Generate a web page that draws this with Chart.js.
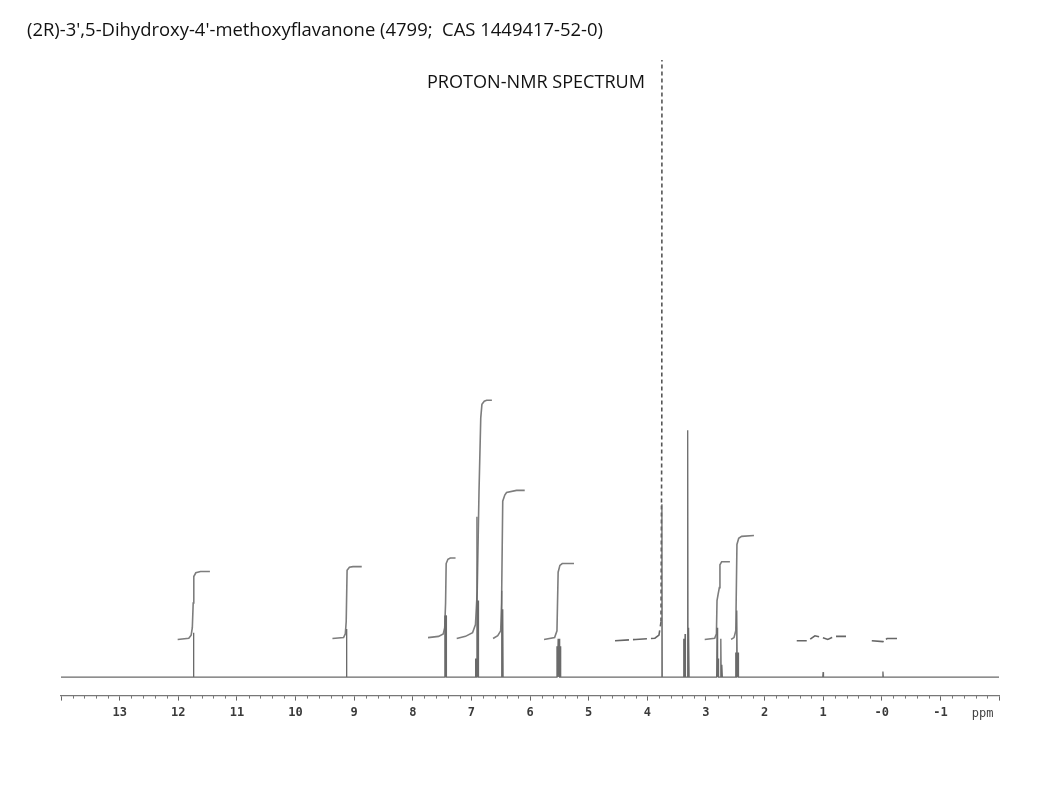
<!DOCTYPE html>
<html>
<head>
<meta charset="utf-8">
<script src="https://cdn.jsdelivr.net/npm/chart.js@4.4.1/dist/chart.umd.min.js"></script>
<style>
  html, body { margin: 0; padding: 0; background: #fff; }
  #wrap { position: relative; width: 1064px; height: 790px; overflow: hidden; }
  #chart { position: absolute; left: 0; top: 0; }
  .txt { position: absolute; white-space: nowrap; font-family: "Open Sans", "Noto Sans", sans-serif; color: #111; line-height: 20px; transform-origin: 0 0; }
</style>
</head>
<body>
<div id="wrap">
  <canvas id="chart" width="1064" height="790"></canvas>
  <div id="title" class="txt" style="left:27px; top:19px; font-size:17.5px;">(2R)-3',5-Dihydroxy-4'-methoxyflavanone (4799;&nbsp; CAS 1449417-52-0)</div>
  <div id="subtitle" class="txt" style="left:427px; top:71px; font-size:17.5px;">PROTON-NMR SPECTRUM</div>
</div>
<script>
// ---- axis ----
const ppmMin = -2;
const ppmMax = 14;
const majorTickLabels = { 13: "13", 12: "12", 11: "11", 10: "10", 9: "9", 8: "8", 7: "7", 6: "6", 5: "5", 4: "4", 3: "3", 2: "2", 1: "1", 0: "-0", "-1": "-1" };
const axisUnit = "ppm";

// ---- spectrum lines (ppm, relative height) ----
const peakPpm    = [11.74, 9.13, 7.452, 7.432, 6.93, 6.905, 6.885, 6.485, 6.465, 5.54, 5.52, 5.50, 5.48, 3.75, 3.38, 3.355, 3.31, 3.292, 2.81, 2.79, 2.745, 2.725, 2.49, 2.47, 2.45, 1.00, -0.02];
const peakHeight = [7.2,   7.8,  10.0,  10.0,  3.0,  26.0,  12.4,  14.0,  11.0,  5.0,  6.2,  6.2,  5.0,  28.0, 6.2,  7.0,   40.0, 8.0,   8.0,  3.0,  6.2,   2.0,   4.0,  10.8, 4.0,  0.8,  0.9];

// ---- integral traces (ppm, level) ----
const intOH5    = [[12.01,6.1],[11.82,6.3],[11.78,6.8],[11.76,8.0],[11.745,12.0],[11.735,16.3],[11.70,16.9],[11.62,17.1],[11.46,17.1]];
const intOH3    = [[9.37,6.25],[9.18,6.4],[9.15,7.0],[9.135,9.0],[9.12,17.3],[9.08,17.8],[9.02,17.9],[8.87,17.9]];
const intH2p    = [[7.74,6.4],[7.56,6.6],[7.48,7.0],[7.455,8.0],[7.44,12.0],[7.43,18.4],[7.40,19.1],[7.36,19.3],[7.27,19.3]];
const intH5p6p  = [[7.25,6.25],[7.10,6.6],[6.98,7.2],[6.93,8.5],[6.90,14.0],[6.87,30.0],[6.84,42.0],[6.82,44.2],[6.78,44.7],[6.74,44.85],[6.65,44.85]];
const intH6H8   = [[6.63,6.25],[6.55,6.7],[6.50,7.5],[6.485,12.0],[6.465,28.5],[6.43,29.5],[6.40,29.9],[6.23,30.25],[6.09,30.25]];
const intH2     = [[5.76,6.1],[5.58,6.4],[5.54,7.5],[5.52,17.0],[5.49,18.1],[5.45,18.4],[5.25,18.4]];
const intOMeLow = [[4.55,5.9],[4.20,6.1],[3.87,6.3],[3.80,6.8],[3.765,9.0]];
const intOMeUp  = [[3.765,9.0],[3.752,40.0],[3.748,130.0]];
const intH3     = [[3.02,6.1],[2.85,6.3],[2.82,7.0],[2.81,12.4],[2.79,13.5],[2.77,14.5],[2.76,18.2],[2.73,18.7],[2.59,18.7]];
const intDMSO   = [[2.57,6.1],[2.52,6.4],[2.49,7.5],[2.47,21.5],[2.44,22.5],[2.39,22.8],[2.18,22.95]];
const intNoiseA = [[1.45,5.9],[1.26,5.9],[1.14,6.7],[1.05,6.5],[0.92,6.1],[0.85,6.4],[0.80,6.6],[0.59,6.6]];
const intNoiseB = [[0.17,5.9],[-0.02,5.75],[-0.09,6.25],[-0.26,6.25]];

// build the stick spectrum trace from the peak list
function buildSpectrum() {
  const idx = peakPpm.map((p, i) => i).sort((a, b) => peakPpm[b] - peakPpm[a]);
  const pts = [{ x: ppmMax, y: 0 }];
  const w = 0.006;
  idx.forEach(i => {
    pts.push({ x: peakPpm[i] + w, y: 0 });
    pts.push({ x: peakPpm[i], y: peakHeight[i] });
    pts.push({ x: peakPpm[i] - w, y: 0 });
  });
  pts.push({ x: ppmMin, y: 0 });
  return pts;
}
const toXY = arr => arr.map(p => ({ x: p[0], y: p[1] }));

const lineGrey = "#6a6a6a";
const intGrey = "#7d7d7d";
function intDs(arr, extra) {
  return Object.assign({ data: toXY(arr), showLine: true, borderColor: intGrey, borderWidth: 1.6, pointRadius: 0, tension: 0, fill: false }, extra || {});
}

const minorTickPlugin = {
  id: "minorTicks",
  afterDraw(chart) {
    const sx = chart.scales.x;
    const ctx = chart.ctx;
    const yb = chart.chartArea.bottom;
    ctx.save();
    ctx.strokeStyle = "#777";
    ctx.lineWidth = 1;
    ctx.beginPath();
    for (let k = 0; k <= 80; k++) {
      const v = ppmMax - k * 0.2;
      if (Math.abs(v - Math.round(v)) < 1e-6) continue;
      const px = Math.round(sx.getPixelForValue(v)) + 0.5;
      ctx.moveTo(px, yb);
      ctx.lineTo(px, yb + 3);
    }
    ctx.stroke();
    ctx.fillStyle = "#444";
    ctx.font = "12px 'DejaVu Sans Mono', monospace";
    ctx.textAlign = "center";
    ctx.textBaseline = "middle";
    ctx.fillText(axisUnit, sx.getPixelForValue(-1.72), yb + 18);
    ctx.restore();
  }
};

new Chart(document.getElementById("chart"), {
  type: "scatter",
  data: {
    datasets: [
      { data: buildSpectrum(), showLine: true, borderColor: lineGrey, borderWidth: 1.3, pointRadius: 0, tension: 0 },
      intDs(intOH5), intDs(intOH3), intDs(intH2p), intDs(intH5p6p), intDs(intH6H8), intDs(intH2),
      intDs(intOMeLow, { borderDash: [14, 4], borderColor: "#666" }),
      intDs(intOMeUp, { borderDash: [4, 3], borderColor: "#555", borderWidth: 1.6 }),
      intDs(intH3), intDs(intDMSO),
      intDs(intNoiseA, { borderDash: [10, 4], borderColor: "#666" }),
      intDs(intNoiseB, { borderDash: [12, 3], borderColor: "#666" })
    ]
  },
  options: {
    responsive: false,
    animation: false,
    events: [],
    layout: { padding: { left: 61, right: 65, top: 60, bottom: 65 } },
    plugins: { legend: { display: false }, tooltip: { enabled: false }, title: { display: false } },
    scales: {
      x: {
        type: "linear",
        reverse: true,
        min: ppmMin,
        max: ppmMax,
        grid: { display: true, drawOnChartArea: false, drawTicks: true, tickLength: 5, tickColor: "#666", tickWidth: 1 },
        border: { display: true, color: "#777", width: 1.3 },
        ticks: {
          stepSize: 1,
          autoSkip: false,
          maxRotation: 0,
          padding: 5,
          color: "#3a3a3a",
          font: { family: "'DejaVu Sans Mono', monospace", size: 12, weight: "bold" },
          callback: v => (majorTickLabels[v] !== undefined ? majorTickLabels[v] : "")
        }
      },
      y: { display: false, min: -3, max: 100 }
    }
  },
  plugins: [minorTickPlugin]
});

// fit header texts to the reference widths
function fitWidth(id, target) {
  const el = document.getElementById(id);
  const w = el.getBoundingClientRect().width;
  if (w > 0) el.style.transform = "scaleX(" + (target / w) + ")";
}
fitWidth("title", 576);
fitWidth("subtitle", 218);
</script>
</body>
</html>
